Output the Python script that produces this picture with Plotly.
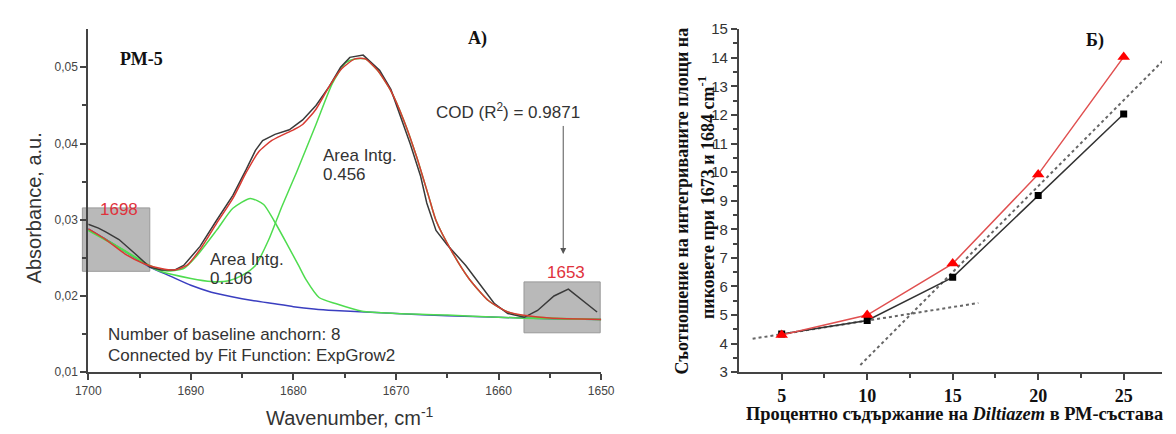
import plotly.graph_objects as go

W, H = 1176, 434

# ---------------- Panel A data ----------------
meas_wn = [1700.0, 1699.0, 1698.3, 1697.0, 1695.4, 1694.0, 1692.9, 1691.6, 1690.7, 1689.1,
           1687.5, 1685.9, 1684.6, 1683.7, 1683.0, 1681.8, 1680.4, 1679.1, 1677.8, 1676.5,
           1675.4, 1674.5, 1673.2, 1672.4, 1671.6, 1670.5, 1669.6, 1668.6, 1667.6, 1667.0,
           1666.1, 1665.0, 1663.2, 1661.6, 1660.4, 1659.1, 1657.5, 1656.2, 1654.6, 1653.2,
           1651.8, 1650.4]
meas_abs = [0.0294, 0.0289, 0.0284, 0.0274, 0.0255, 0.0238, 0.0234, 0.0234, 0.0240, 0.0265,
            0.0299, 0.0332, 0.0366, 0.0391, 0.0404, 0.0412, 0.0418, 0.0431, 0.0450, 0.0475,
            0.0500, 0.0513, 0.0516, 0.0506, 0.0496, 0.0471, 0.0437, 0.0399, 0.0357, 0.0322,
            0.0286, 0.0267, 0.0240, 0.0211, 0.0190, 0.0177, 0.0172, 0.0181, 0.0200, 0.0209,
            0.0194, 0.0179]

fit_wn = [1700.0, 1698.3, 1696.4, 1694.5, 1692.9, 1691.6, 1690.4, 1689.1, 1687.5, 1685.9,
          1684.6, 1683.4, 1682.1, 1681.1, 1680.0, 1679.1, 1677.8, 1676.5, 1675.3, 1674.0,
          1673.0, 1671.8, 1670.5, 1669.2, 1668.0, 1666.8, 1666.1, 1664.5, 1662.9, 1661.0,
          1659.1, 1657.2, 1655.0, 1650.0]
fit_abs = [0.0288, 0.0274, 0.0255, 0.0242, 0.0236, 0.0234, 0.0240, 0.0261, 0.0295, 0.0328,
           0.0362, 0.0389, 0.0404, 0.0411, 0.0418, 0.0425, 0.0445, 0.0475, 0.0498, 0.0511,
           0.0511, 0.0496, 0.0469, 0.0429, 0.0383, 0.0330, 0.0299, 0.0257, 0.0223, 0.0194,
           0.0179, 0.0174, 0.0171, 0.0169]

base_wn = [1700, 1698, 1696, 1694, 1692, 1690, 1688, 1686, 1684, 1682, 1680, 1678, 1676,
           1673, 1670, 1665, 1660, 1655, 1650]
base_abs = [0.0288, 0.0272, 0.0255, 0.0238, 0.0226, 0.0214, 0.0205, 0.0199, 0.0194, 0.0190,
            0.0186, 0.0183, 0.0181, 0.0179, 0.0177, 0.0174, 0.0172, 0.0170, 0.0169]

peak1_wn = [1700, 1698, 1696, 1694, 1692.5, 1690.7, 1689.4, 1687.5, 1685.9, 1684.2, 1682.9,
            1681.9, 1680.7, 1679.5, 1678.8, 1677.5, 1675.9, 1673.3, 1670, 1665, 1660, 1655, 1650]
peak1_abs = [0.0287, 0.0272, 0.0256, 0.0240, 0.0233, 0.0236, 0.0253, 0.0286, 0.0315, 0.0328,
             0.0320, 0.0299, 0.0270, 0.0240, 0.0222, 0.0198, 0.0190, 0.0180, 0.0177, 0.0175,
             0.0172, 0.0170, 0.0169]

peak2_wn = [1700, 1698, 1696, 1694, 1692.9, 1690, 1688, 1686.3, 1685, 1683.7, 1682.4, 1681.6,
            1681.1, 1679.7, 1677.8, 1676.2, 1674.9, 1674.0, 1673.0, 1671.8, 1670.5, 1669.2,
            1668.0, 1666.8, 1666.1, 1664.5, 1662.9, 1661.0, 1659.1, 1657.2, 1655.0, 1650.0]
peak2_abs = [0.0286, 0.0271, 0.0255, 0.0239, 0.0232, 0.0223, 0.0219, 0.0220, 0.0227, 0.0240,
             0.0274, 0.0301, 0.0318, 0.0362, 0.0425, 0.0479, 0.0506, 0.0511, 0.0511, 0.0496,
             0.0469, 0.0429, 0.0383, 0.0330, 0.0299, 0.0257, 0.0223, 0.0194, 0.0179, 0.0173,
             0.0171, 0.0169]

wn_ticks = [1700, 1690, 1680, 1670, 1660, 1650]
wn_ticktext = ["1700", "1690", "1680", "1670", "1660", "1650"]
abs_ticks = [0.01, 0.02, 0.03, 0.04, 0.05]
abs_ticktext = ["0,01", "0,02", "0,03", "0,04", "0,05"]

# ---------------- Panel B data ----------------
conc = [5, 10, 15, 20, 25]
ratio_black = [4.34, 4.81, 6.32, 9.18, 12.03]
ratio_red = [4.30, 5.00, 6.80, 9.92, 14.03]
trend1_x = [3.3, 16.5]
trend1_y = [4.17, 5.42]
trend2_x = [9.6, 27.3]
trend2_y = [3.25, 13.9]
conc_ticks = [5, 10, 15, 20, 25]
ratio_ticks = list(range(3, 16))

fig = go.Figure()

def add(x, y, color, xa="x", ya="y", width=1.5, shape="linear", **kw):
    fig.add_trace(go.Scatter(x=x, y=y, mode="lines", xaxis=xa, yaxis=ya,
                             line=dict(color=color, width=width, shape=shape, smoothing=0.6),
                             showlegend=False, hoverinfo="skip", **kw))

add(base_wn, base_abs, "#3a3ec0", shape="spline")
add(peak1_wn, peak1_abs, "#4fdc4f", shape="spline")
add(peak2_wn, peak2_abs, "#4fdc4f", shape="spline")
add(meas_wn, meas_abs, "#3a3a3a")
add(fit_wn, fit_abs, "#d93a32", shape="spline")

# Panel B traces
fig.add_trace(go.Scatter(x=trend1_x, y=trend1_y, mode="lines", xaxis="x2", yaxis="y2",
                         line=dict(color="#666", width=2, dash="dot"), showlegend=False))
fig.add_trace(go.Scatter(x=trend2_x, y=trend2_y, mode="lines", xaxis="x2", yaxis="y2",
                         line=dict(color="#666", width=2, dash="dot"), showlegend=False))
fig.add_trace(go.Scatter(x=conc, y=ratio_black, mode="lines+markers", xaxis="x2", yaxis="y2",
                         line=dict(color="#333", width=1.5),
                         marker=dict(symbol="square", size=7, color="#000"), showlegend=False))
fig.add_trace(go.Scatter(x=conc, y=ratio_red, mode="lines+markers", xaxis="x2", yaxis="y2",
                         line=dict(color="#e05050", width=1.5),
                         marker=dict(symbol="triangle-up", size=11, color="#ff0000"), showlegend=False))

def px(x):
    return x / W

def py(y):
    return 1 - y / H

axis_common = dict(showgrid=False, zeroline=False, showline=True, linecolor="#444", linewidth=2,
                   ticks="outside", ticklen=6, tickwidth=1.5, tickcolor="#444")

fig.update_layout(
    width=W, height=H, margin=dict(l=0, r=0, t=0, b=0),
    paper_bgcolor="white", plot_bgcolor="white",
    xaxis=dict(domain=[px(77), px(602)], range=[1700, 1650], anchor="y",
               tickmode="array", tickvals=wn_ticks, ticktext=wn_ticktext,
               tickfont=dict(family="Liberation Sans", size=12, color="#444"),
               minor=dict(tickmode="array", tickvals=[1695, 1685, 1675, 1665, 1655],
                          ticks="outside", ticklen=4, tickcolor="#444"),
               **axis_common),
    yaxis=dict(domain=[py(378), py(21)], range=[0.01, 0.055], anchor="x",
               tickmode="array", tickvals=abs_ticks, ticktext=abs_ticktext,
               tickfont=dict(family="Liberation Sans", size=12, color="#444"),
               minor=dict(tickmode="array", tickvals=[0.015, 0.025, 0.035, 0.045],
                          ticks="outside", ticklen=4, tickcolor="#444"),
               **axis_common),
    xaxis2=dict(domain=[px(743), 1.0], range=[2.5, 27.24], anchor="y2",
                tickmode="array", tickvals=conc_ticks, ticktext=[str(v) for v in conc_ticks],
                tickfont=dict(family="Liberation Serif", size=18, color="#111", weight="bold"),
                minor=dict(tickmode="array", tickvals=[7.5, 12.5, 17.5, 22.5],
                           ticks="outside", ticklen=4, tickcolor="#444"),
                **axis_common),
    yaxis2=dict(domain=[py(378), py(21)], range=[3, 15], anchor="x2",
                tickmode="array", tickvals=ratio_ticks, ticktext=[str(v) for v in ratio_ticks],
                tickfont=dict(family="Liberation Sans", size=15, color="#333"),
                minor=dict(tickmode="array", tickvals=[v + 0.5 for v in range(3, 15)],
                           ticks="outside", ticklen=4, tickcolor="#444"),
                **axis_common),
)

# grey highlight boxes (below traces)
fig.add_shape(type="rect", xref="paper", yref="paper", x0=px(71), x1=px(140), y0=py(273), y1=py(207),
              fillcolor="#b9b9b9", line=dict(color="#999", width=1), layer="below")
fig.add_shape(type="rect", xref="paper", yref="paper", x0=px(523), x1=px(601), y0=py(337), y1=py(284),
              fillcolor="#b9b9b9", line=dict(color="#999", width=1), layer="below")

def ann(text, x, y, size=17, color="#333", family="Liberation Sans", xanchor="left",
        yanchor="middle", angle=0, bold=False):
    fig.add_annotation(text=text, x=px(x), y=py(y), xref="paper", yref="paper", showarrow=False,
                       xanchor=xanchor, yanchor=yanchor, textangle=angle,
                       font=dict(family=family, size=size, color=color,
                                 weight="bold" if bold else "normal"))

serif = "Liberation Serif"
ann("РМ-5", 132, 52, size=18, color="#111", family=serif, xanchor="center", bold=True)
ann("А)", 475, 31, size=18, color="#111", family=serif, xanchor="center", bold=True)
ann("Б)", 1107, 33, size=18, color="#111", family=serif, xanchor="center", bold=True)
ann("Area Intg.", 315, 152)
ann("0.456", 315, 172)
ann("Area Intg.", 200, 261)
ann("0.106", 200, 281)
ann("COD (R<sup>2</sup>) = 0.9871", 431, 106)
ann("Number of baseline anchorn: 8", 95, 339)
ann("Connected by Fit Function: ExpGrow2", 95, 361)
ann("1698", 108, 209, color="#e0323c", xanchor="center")
ann("1653", 566, 274, color="#e0323c", xanchor="center")
ann("Absorbance, a.u.", 21, 207, size=20, xanchor="center", angle=-90)
ann("Wavenumber, cm<sup>-1</sup>", 257, 424, size=20)
ann("Съотношение на интегриваните площи на", 685, 200, size=18, color="#111", family=serif,
    xanchor="center", angle=-90, bold=True)
ann("пиковете при 1673 и 1684 cm<sup>-1</sup>", 710, 196, size=18, color="#111", family=serif,
    xanchor="center", angle=-90, bold=True)
ann("Процентно съдържание на <i>Diltiazem</i> в РМ-състава", 748, 422, size=18.4, color="#111",
    family=serif, bold=True)

# arrow pointing to the 1653 band
fig.add_annotation(x=1653.7, y=0.0255, ax=1653.7, ay=0.0425, xref="x", yref="y", axref="x", ayref="y",
                   showarrow=True, arrowhead=2, arrowsize=1.2, arrowwidth=1, arrowcolor="#555", text="")

fig.write_html("out.html")
